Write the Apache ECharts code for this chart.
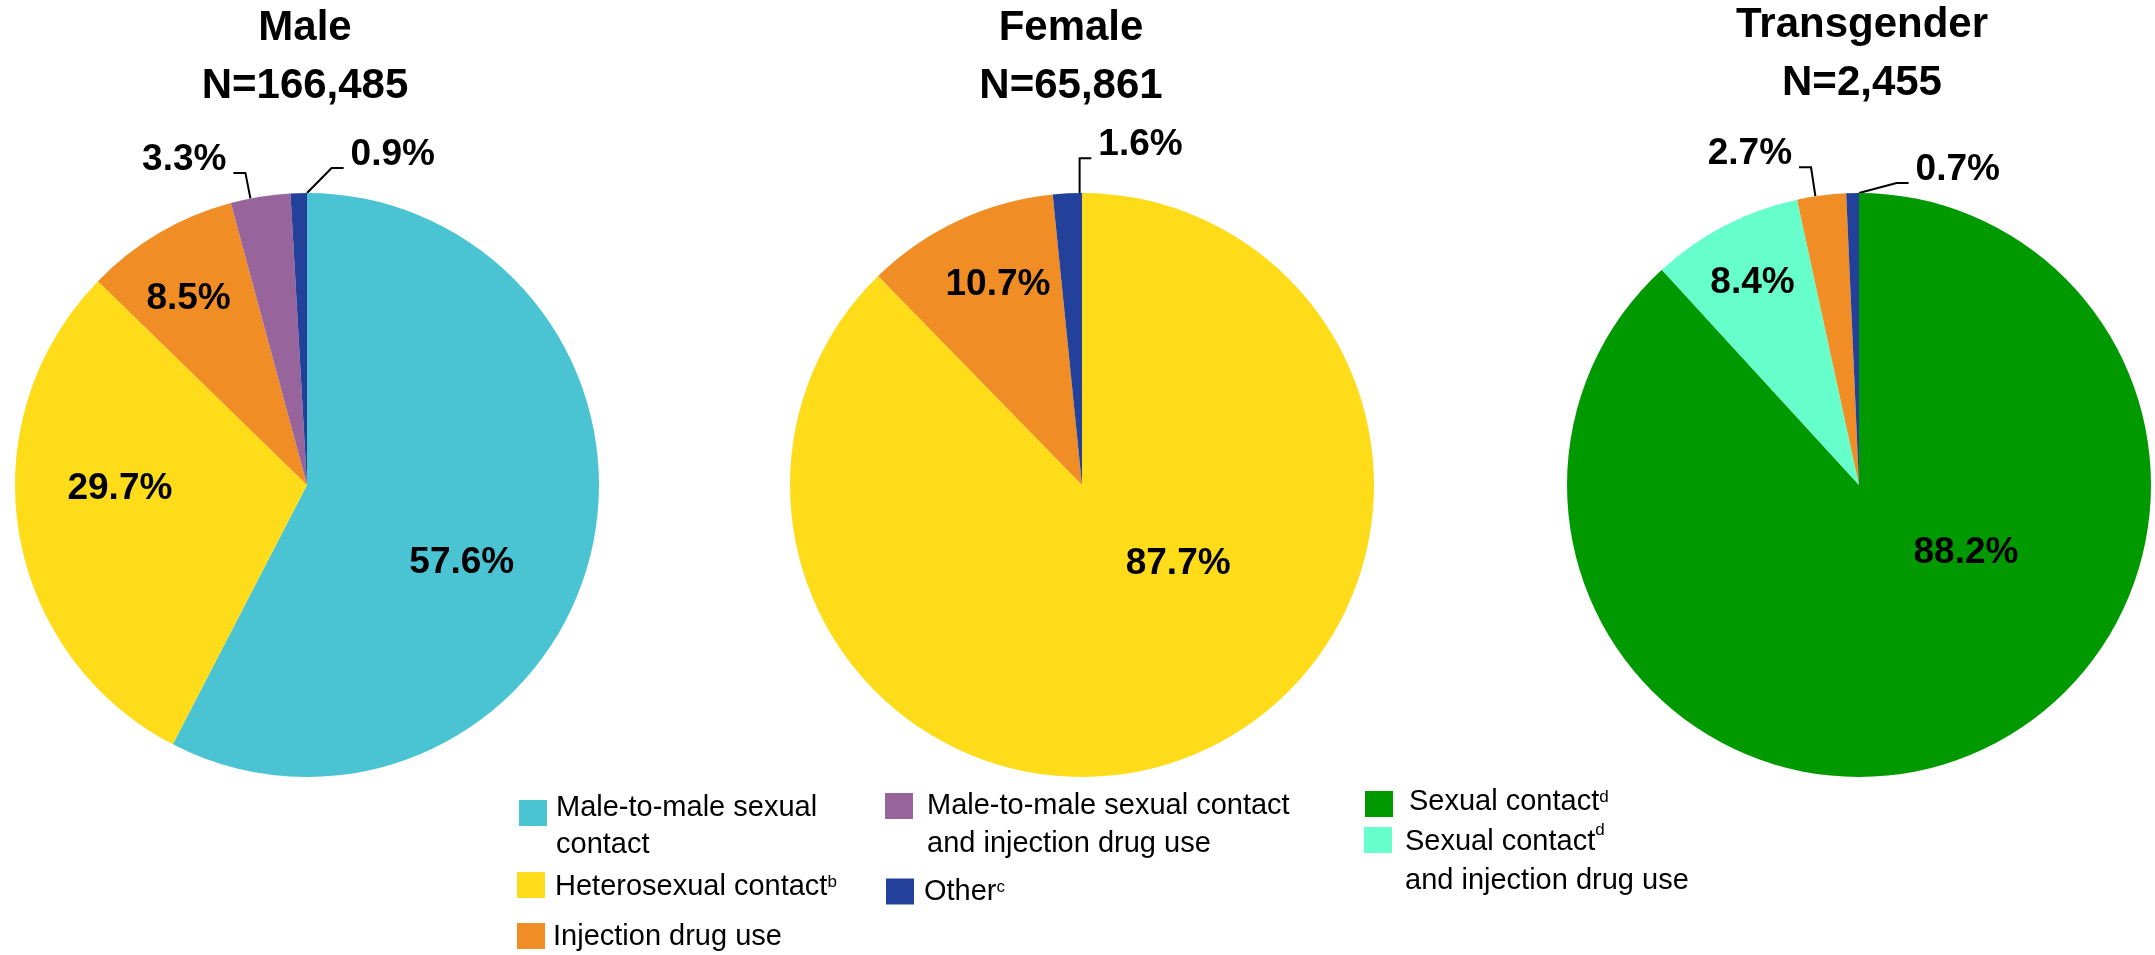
<!DOCTYPE html>
<html>
<head>
<meta charset="utf-8">
<script src="https://cdn.jsdelivr.net/npm/echarts@6/dist/echarts.min.js"></script>
<style>
html,body{margin:0;padding:0;background:#ffffff;}
#chart{width:2155px;height:955px;}
</style>
</head>
<body>
<div id="chart"></div>
<script>
// ---------- data ----------
const groupTitles = ['Male', 'Female', 'Transgender'];
const groupTotals = ['N=166,485', 'N=65,861', 'N=2,455'];

const maleCategories = ['Male-to-male sexual contact', 'Heterosexual contact', 'Injection drug use', 'Male-to-male sexual contact and injection drug use', 'Other'];
const maleValues = [57.6, 29.7, 8.5, 3.3, 0.9];

const femaleCategories = ['Heterosexual contact', 'Injection drug use', 'Other'];
const femaleValues = [87.7, 10.7, 1.6];

const transCategories = ['Sexual contact', 'Sexual contact and injection drug use', 'Injection drug use', 'Other'];
const transValues = [88.2, 8.4, 2.7, 0.7];

const legendCategories = ['Male-to-male sexual contact', 'Heterosexual contact', 'Injection drug use', 'Male-to-male sexual contact and injection drug use', 'Other', 'Sexual contact', 'Sexual contact and injection drug use'];
const legendLabels = ['Male-to-male sexual\ncontact', 'Heterosexual contact{s|b}', 'Injection drug use', 'Male-to-male sexual contact\nand injection drug use', 'Other{s|c}', 'Sexual contact{s|d}', 'Sexual contact{s|d}\nand injection drug use'];

// ---------- styles / layout ----------
const FONT = "'Liberation Sans', Arial, Helvetica, sans-serif";
const categoryColors = {
  'Male-to-male sexual contact': '#4AC3D3',
  'Heterosexual contact': '#FEDC1A',
  'Injection drug use': '#F08D25',
  'Male-to-male sexual contact and injection drug use': '#97659B',
  'Other': '#23409A',
  'Sexual contact': '#009A00',
  'Sexual contact and injection drug use': '#66FFCC'
};
const pieCenters = [[307, 485], [1082, 485], [1859, 485]];
const pieRadius = 292;
const titleX = [305, 1071, 1862];
const titleTop = [-1, -1, -4];
// shift of each value label from the library's default inside position
const labelShift = [
  [[10, 43], [-40, -20], [-43, -58], [-99, -165], [90, -168]],
  [[40, -59], [-21, -65], [66, -178]],
  [[53, -71], [-38, -70], [-90, -170], [102, -153]]
];
const outsideLabel = [[false, false, false, true, true], [false, false, true], [false, false, true, true]];
const legendLayout = [
  {left: 519, top: 763, lh: 37, pad: [26, 0, 0, 4]},
  {left: 517, top: 870, lh: 26, pad: [4, 0, 0, 5]},
  {left: 517, top: 922, lh: 26, pad: [2, 0, 0, 3]},
  {left: 885, top: 749, lh: 38, pad: [38, 0, 0, 9]},
  {left: 886, top: 877, lh: 26, pad: [0, 0, 0, 5]},
  {left: 1365, top: 787, lh: 26, pad: [0, 0, 5, 11]},
  {left: 1364, top: 780, lh: 39, pad: [42, 0, 0, 8]}
];
const labelFont = {fontFamily: FONT, fontSize: 37, fontWeight: 'bold', color: '#000'};

function buildData(cats, vals, si) {
  return cats.map(function (c, i) {
    const out = outsideLabel[si][i];
    return {
      name: c,
      value: vals[i],
      itemStyle: {color: categoryColors[c]},
      labelLine: {show: out, length2: 12, lineStyle: {color: '#000', width: 2}}
    };
  });
}

const seriesSets = [[maleCategories, maleValues], [femaleCategories, femaleValues], [transCategories, transValues]];

const option = {
  backgroundColor: '#ffffff',
  animation: false,
  title: groupTitles.map(function (t, i) {
    return {
      text: t + '\n' + groupTotals[i],
      left: titleX[i],
      top: titleTop[i],
      textAlign: 'center',
      padding: 0,
      textStyle: {fontFamily: FONT, fontSize: 42, fontWeight: 'bold', color: '#000', lineHeight: 58}
    };
  }),
  legend: legendCategories.map(function (name, i) {
    const L = legendLayout[i];
    return {
      data: [name],
      left: L.left,
      top: L.top,
      padding: 0,
      orient: 'vertical',
      icon: 'rect',
      itemWidth: 28,
      itemHeight: 26,
      selectedMode: false,
      formatter: function () { return legendLabels[i]; },
      textStyle: {
        fontFamily: FONT, fontSize: 29, color: '#000', lineHeight: L.lh, padding: L.pad,
        rich: {s: {fontFamily: FONT, fontSize: 17, color: '#000', verticalAlign: 'top', lineHeight: L.lh - 9}}
      }
    };
  }),
  series: seriesSets.map(function (set, si) {
    return {
      type: 'pie',
      center: pieCenters[si],
      radius: pieRadius,
      startAngle: 90,
      clockwise: true,
      avoidLabelOverlap: false,
      silent: true,
      emphasis: {disabled: true, scale: false},
      itemStyle: {borderWidth: 0},
      label: Object.assign({
        show: true,
        position: 'inside',
        formatter: function (p) {
          const txt = p.value.toFixed(1) + '%';
          return outsideLabel[p.seriesIndex][p.dataIndex] ? '{o|' + txt + '}' : txt;
        },
        rich: {o: Object.assign({padding: [0, 7, 26, 7], lineHeight: 26}, labelFont)}
      }, labelFont),
      labelLine: {show: false, length2: 12, lineStyle: {color: '#000', width: 2}},
      labelLayout: function (p) {
        const s = labelShift[p.seriesIndex][p.dataIndex];
        return {
          x: p.labelRect.x + p.labelRect.width / 2 + s[0],
          y: p.labelRect.y + p.labelRect.height / 2 + s[1],
          align: 'center',
          verticalAlign: 'middle'
        };
      },
      data: buildData(set[0], set[1], si)
    };
  })
};

const chart = echarts.init(document.getElementById('chart'), null, {renderer: 'canvas'});
chart.setOption(option);
</script>
</body>
</html>
